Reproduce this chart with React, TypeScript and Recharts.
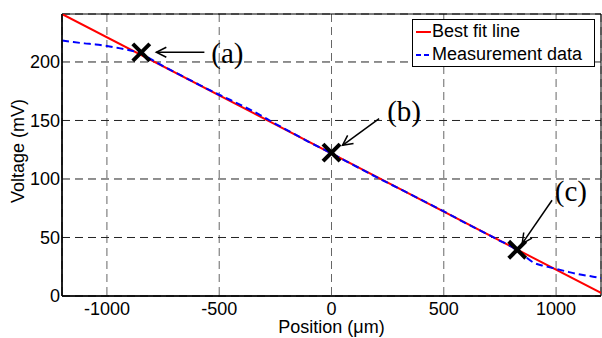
import {
  ComposedChart, Line, Scatter, XAxis, YAxis, CartesianGrid, Legend,
  ReferenceLine, ReferenceDot, ReferenceArea,
} from 'recharts'

// best fit line (two ends are enough for a straight line)
const fitX = [-1200, 1200]
const fitY = [241.0, 2.6]

// measured voltage along the position axis
const measX = [
  -1200, -1150, -1100, -1050, -1000, -950, -900, -850, -800, -750, -700, -600,
  -500, -450, -400, -350, -300, -250, -200, -100, 0, 100, 200, 300, 400, 500,
  600, 700, 750, 800, 850, 900, 950, 1000, 1050, 1100, 1150, 1200,
]
const measY = [
  218.3, 217.0, 215.9, 215.0, 213.7, 212.0, 210.0, 207.3, 202.0, 196.5, 191.5, 181.6,
  172.0, 167.5, 162.8, 158.0, 152.8, 147.2, 142.0, 131.6, 121.8, 111.7, 101.6, 91.9, 82.2, 72.3,
  62.0, 52.2, 47.2, 42.3, 35.5, 28.5, 25.5, 23.2, 20.8, 18.6, 17.0, 15.4,
]

// marked points (a), (b), (c) and their callouts
const markLabels = ['(a)', '(b)', '(c)']
const markX = [-847, 0, 827]
const markY = [208.2, 122.5, 39.5]
const arrowFromX = [-566, 212, 982]
const arrowFromY = [208.3, 151.6, 81.8]
const arrowToX = [-780, 49, 849]
const arrowToY = [208.3, 128.8, 44.8]
const labelX = [-535, 248, 994]
const labelY = [199.0, 149.3, 80.9]

const xTicks = [-1000, -500, 0, 500, 1000]
const yTicks = [0, 50, 100, 150, 200]

const seriesNames = ['Best fit line', 'Measurement data']
const xTitle = 'Position (μm)'
const yTitle = 'Voltage (mV)'

const fitData = fitX.map((x, i) => ({ x, y: fitY[i] }))
const measData = measX.map((x, i) => ({ x, y: measY[i] }))
const markData = markX.map((x, i) => ({ x, y: markY[i] }))

const SANS = '"Liberation Sans", Arial, sans-serif'
const SERIF = '"Liberation Serif", "Times New Roman", serif'
const RED = '#ff0000'
const BLUE = '#0000ff'

const legendItems = [
  { name: seriesNames[0], color: RED, dash: undefined },
  { name: seriesNames[1], color: BLUE, dash: '5 3' },
]

function LegendBox() {
  return (
    <div style={{
      border: '1px solid #000', background: '#fff',
      fontFamily: SANS, fontSize: 18, lineHeight: '23px', color: '#000',
    }}>
      {legendItems.map(it => (
        <div key={it.name} style={{ display: 'flex', alignItems: 'center', height: 23 }}>
          <svg width={19} height={23} style={{ flex: 'none' }}>
            <line x1={3} x2={18} y1={12} y2={12} stroke={it.color} strokeWidth={2} strokeDasharray={it.dash} />
          </svg>
          <span style={{ whiteSpace: 'nowrap' }}>{it.name}</span>
        </div>
      ))}
    </div>
  )
}

function Cross(props: any) {
  const { cx, cy } = props
  const s = 8.5
  return (
    <g stroke="#000" strokeWidth={4} strokeLinecap="butt">
      <line x1={cx - s} y1={cy - s} x2={cx + s} y2={cy + s} />
      <line x1={cx - s} y1={cy + s} x2={cx + s} y2={cy - s} />
    </g>
  )
}

export default function App() {
  return (
    <div style={{ position: 'absolute', left: 0, top: 0, width: 602, height: 338, background: '#fff' }}>
      <ComposedChart width={602} height={338} margin={{ top: 14, right: 1, bottom: 0, left: 0 }}>
        <defs>
          <marker id="arrowHead" markerUnits="userSpaceOnUse" markerWidth={14} markerHeight={14}
            refX={11} refY={6} orient="auto" viewBox="0 0 14 12">
            <path d="M1,1 L11,6 L1,11" fill="none" stroke="#000" strokeWidth={1.5} />
          </marker>
        </defs>
        <CartesianGrid horizontal={false} vertical stroke="#666" strokeDasharray="8 5" strokeWidth={1} />
        <CartesianGrid horizontal vertical={false} stroke="#222" strokeDasharray="8 5" strokeWidth={1} />
        <XAxis
          dataKey="x" type="number" domain={[-1200, 1200]} ticks={xTicks} height={42}
          allowDataOverflow tickLine={false} tickSize={0} tickMargin={6}
          axisLine={{ stroke: '#000', strokeWidth: 1.5 }}
          tick={{ fontSize: 18, fill: '#000', fontFamily: SANS }}
          label={{
            value: xTitle,
            content: (p: any) => (
              <text x={p.viewBox.x + p.viewBox.width / 2} y={p.viewBox.y + p.viewBox.height - 5}
                textAnchor="middle" fontSize={18} fontFamily={SANS} fill="#000">{xTitle}</text>
            ),
          }}
        />
        <YAxis
          type="number" domain={[0, 241]} ticks={yTicks} width={62}
          allowDataOverflow tickLine={false} tickSize={0} tickMargin={2}
          axisLine={{ stroke: '#000', strokeWidth: 1.5 }}
          tick={{ fontSize: 18, fill: '#000', fontFamily: SANS }}
          label={{
            value: yTitle,
            content: (p: any) => {
              const cx = 18
              const cy = p.viewBox.y + p.viewBox.height / 2 - 4
              return (
                <text x={cx} y={cy} transform={`rotate(-90 ${cx} ${cy})`} textAnchor="middle"
                  dominantBaseline="central" fontSize={18} fontFamily={SANS} fill="#000">{yTitle}</text>
              )
            },
          }}
        />
        <ReferenceArea x1={-1200} x2={1200} y1={0} y2={241} fill="none" stroke="#000" strokeWidth={1} ifOverflow="visible" />
        <Line data={fitData} dataKey="y" name={seriesNames[0]} stroke={RED} strokeWidth={2}
          dot={false} activeDot={false} isAnimationActive={false} />
        <Line data={measData} dataKey="y" name={seriesNames[1]} type="monotone" stroke={BLUE} strokeWidth={2}
          strokeDasharray="7 4" dot={false} activeDot={false} isAnimationActive={false} />
        <Scatter data={markData} dataKey="y" legendType="none" shape={<Cross />} isAnimationActive={false} />
        {markLabels.map((lab, i) => (
          <ReferenceLine
            key={'arr' + lab}
            segment={[{ x: arrowFromX[i], y: arrowFromY[i] }, { x: arrowToX[i], y: arrowToY[i] }]}
            ifOverflow="visible"
            shape={(p: any) => (
              <line x1={p.x1} y1={p.y1} x2={p.x2} y2={p.y2} stroke="#000" strokeWidth={1.5} markerEnd="url(#arrowHead)" />
            )}
          />
        ))}
        {markLabels.map((lab, i) => (
          <ReferenceDot
            key={'lab' + lab}
            x={labelX[i]} y={labelY[i]} r={0} ifOverflow="visible"
            shape={(p: any) => (
              <text x={p.cx} y={p.cy} fontSize={29} fontFamily={SERIF} fill="#000">{lab}</text>
            )}
          />
        ))}
        <Legend
          layout="horizontal" verticalAlign="middle" align="center"
          content={<LegendBox />}
          wrapperStyle={{ position: 'absolute', left: 412, top: 19, width: 183, height: 'auto' }}
        />
      </ComposedChart>
    </div>
  )
}
